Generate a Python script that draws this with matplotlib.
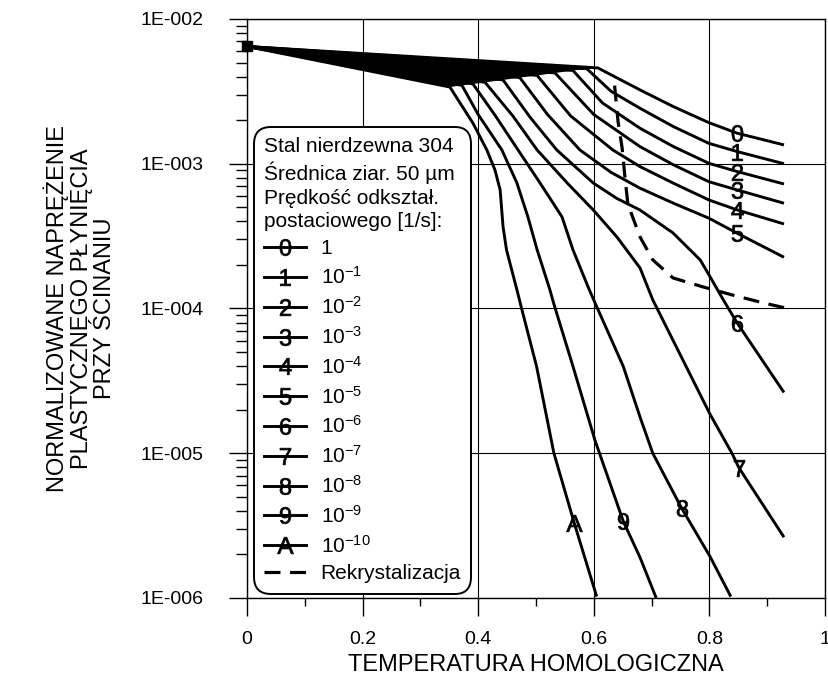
import matplotlib
matplotlib.use('Agg')
import matplotlib.pyplot as plt
from matplotlib.lines import Line2D
from matplotlib.ticker import LogLocator, MultipleLocator, NullFormatter
import numpy as np

plt.rcParams['font.family'] = ['Liberation Sans', 'DejaVu Sans']
plt.rcParams['mathtext.fontset'] = 'custom'
plt.rcParams['mathtext.rm'] = 'Liberation Sans'
plt.rcParams['mathtext.it'] = 'Liberation Sans:italic'
plt.rcParams['mathtext.bf'] = 'Liberation Sans:bold'

# homologous temperature and log10(normalised shear flow stress)
x_0 = [0, 0.607, 0.68, 0.738, 0.799, 0.848, 0.929]
lg_0 = [-2.19, -2.338, -2.49, -2.606, -2.716, -2.789, -2.87]
x_1 = [0, 0.588, 0.63, 0.68, 0.738, 0.799, 0.848, 0.929]
lg_1 = [-2.19, -2.344, -2.50, -2.617, -2.744, -2.859, -2.916, -3.0]
x_2 = [0, 0.564, 0.615, 0.68, 0.738, 0.799, 0.848, 0.929]
lg_2 = [-2.19, -2.356, -2.58, -2.755, -2.882, -2.997, -3.054, -3.14]
x_3 = [0, 0.533, 0.60, 0.68, 0.738, 0.799, 0.848, 0.929]
lg_3 = [-2.19, -2.373, -2.66, -2.882, -3.008, -3.124, -3.181, -3.273]
x_4 = [0, 0.502, 0.56, 0.633, 0.68, 0.738, 0.799, 0.848, 0.929]
lg_4 = [-2.19, -2.39, -2.67, -2.905, -3.02, -3.135, -3.25, -3.319, -3.416]
x_5 = [0, 0.472, 0.52, 0.576, 0.63, 0.68, 0.738, 0.799, 0.848, 0.929]
lg_5 = [-2.19, -2.405, -2.66, -2.905, -3.06, -3.169, -3.273, -3.376, -3.48, -3.646]
x_6 = [0, 0.443, 0.49, 0.536, 0.599, 0.64, 0.68, 0.737, 0.784, 0.801, 0.824, 0.848, 0.929]
lg_6 = [-2.19, -2.421, -2.68, -2.905, -3.133, -3.24, -3.32, -3.478, -3.664, -3.78, -3.94, -4.10, -4.58]
x_7 = [0, 0.412, 0.46, 0.502, 0.554, 0.599, 0.64, 0.68, 0.702, 0.801, 0.839, 0.851, 0.929]
lg_7 = [-2.19, -2.438, -2.67, -2.905, -3.133, -3.319, -3.506, -3.72, -3.94, -4.73, -5.0, -5.10, -5.58]
x_8 = [0, 0.391, 0.43, 0.469, 0.507, 0.545, 0.564, 0.59, 0.602, 0.651, 0.68, 0.702, 0.752, 0.801, 0.837]
lg_8 = [-2.19, -2.449, -2.67, -2.905, -3.133, -3.367, -3.595, -3.85, -3.96, -4.40, -4.75, -5.0, -5.38, -5.713, -5.99]
x_9 = [0, 0.372, 0.40, 0.441, 0.467, 0.486, 0.502, 0.524, 0.531, 0.564, 0.602, 0.651, 0.68, 0.708]
lg_9 = [-2.19, -2.459, -2.66, -2.905, -3.133, -3.367, -3.595, -3.87, -3.97, -4.40, -4.91, -5.47, -5.72, -6.0]
x_A = [0, 0.351, 0.391, 0.415, 0.429, 0.438, 0.443, 0.449, 0.458, 0.467, 0.475, 0.501, 0.531, 0.566, 0.605]
lg_A = [-2.19, -2.47, -2.72, -2.905, -3.043, -3.181, -3.434, -3.595, -3.733, -3.871, -3.998, -4.40, -5.0, -5.48, -5.99]

# recrystallisation boundary
x_rek = [0.636, 0.642, 0.649, 0.654, 0.659, 0.68, 0.702, 0.737, 0.789, 0.839, 0.893, 0.931]
lg_rek = [-2.46, -2.711, -2.891, -3.098, -3.28, -3.506, -3.664, -3.789, -3.851, -3.906, -3.961, -3.996]

# curve number labels sitting on the curves
curve_ids = ['0', '1', '2', '3', '4', '5', '6', '7', '8', '9', 'A']
label_x = [0.848, 0.848, 0.848, 0.848, 0.848, 0.848, 0.848, 0.851, 0.752, 0.651, 0.566]
label_lg = [-2.789, -2.916, -3.054, -3.181, -3.319, -3.48, -4.10, -5.10, -5.38, -5.47, -5.483]

rates = ['1', '10$^{\\mathregular{-1}}$', '10$^{\\mathregular{-2}}$', '10$^{\\mathregular{-3}}$',
         '10$^{\\mathregular{-4}}$', '10$^{\\mathregular{-5}}$', '10$^{\\mathregular{-6}}$',
         '10$^{\\mathregular{-7}}$', '10$^{\\mathregular{-8}}$', '10$^{\\mathregular{-9}}$',
         '10$^{\\mathregular{-10}}$']

y_ticks = [1e-6, 1e-5, 1e-4, 1e-3, 1e-2]
y_ticklabels = ['1E-006', '1E-005', '1E-004', '1E-003', '1E-002']
x_ticks = [0, 0.2, 0.4, 0.6, 0.8, 1]
x_ticklabels = ['0', '0.2', '0.4', '0.6', '0.8', '1']

curves_x = [x_0, x_1, x_2, x_3, x_4, x_5, x_6, x_7, x_8, x_9, x_A]
curves_lg = [lg_0, lg_1, lg_2, lg_3, lg_4, lg_5, lg_6, lg_7, lg_8, lg_9, lg_A]

fig = plt.figure(figsize=(8.29, 6.78), dpi=100)
ax = fig.add_axes([0.2979, 0.118, 0.6973, 0.854])

lw = 2.1
for xs, lgs in zip(curves_x, curves_lg):
    ax.plot(xs, 10 ** np.array(lgs), color='k', lw=lw, solid_joinstyle='round',
            solid_capstyle='butt', zorder=3)

# the dense bundle between the start point and the knees prints as a solid wedge
fan_x = [x_0[0]] + [xs[1] for xs in curves_x[::-1]]
fan_lg = [lg_0[0]] + [lgs[1] for lgs in curves_lg[::-1]]
ax.fill(fan_x, 10 ** np.array(fan_lg), color='k', lw=0, zorder=3)

# markers with the curve number
markers = ['$%s$' % c if c != 'A' else r'$\mathrm{A}$' for c in curve_ids]
for lx, ly, m in zip(label_x, label_lg, markers):
    ax.plot([lx], [10 ** ly], ls='none', marker=m, ms=12, color='k', mew=0.5, zorder=4)

# common starting point
ax.plot([x_0[0]], [10 ** lg_0[0]], ls='none', marker='s', ms=7, color='k', clip_on=False, zorder=5)

ax.plot(x_rek, 10 ** np.array(lg_rek), color='k', lw=2.3, dashes=(5, 3), zorder=3)

ax.set_yscale('log')
ax.set_xlim(0, 1)
ax.set_ylim(1e-6, 1e-2)
ax.set_xticks(x_ticks)
ax.set_xticklabels(x_ticklabels)
ax.xaxis.set_minor_locator(MultipleLocator(0.1))
ax.set_yticks(y_ticks)
ax.set_yticklabels(y_ticklabels)
ax.yaxis.set_minor_locator(LogLocator(base=10, subs=np.arange(2, 10)))
ax.yaxis.set_minor_formatter(NullFormatter())

ax.tick_params(axis='both', which='major', labelsize=14, width=1, direction='out', color='k')
ax.tick_params(axis='x', which='major', length=13, pad=11)
ax.tick_params(axis='x', which='minor', length=6, width=1, direction='out')
ax.tick_params(axis='y', which='major', length=13, pad=18)
ax.tick_params(axis='y', which='minor', length=8, width=1, direction='out')

ax.grid(True, which='major', color='k', lw=0.8)
ax.set_axisbelow(True)
for s in ax.spines.values():
    s.set_linewidth(1)

ax.set_xlabel('TEMPERATURA HOMOLOGICZNA', fontsize=17)
ax.xaxis.set_label_coords(0.5, -0.1157)
ax.xaxis.label.set_va('center')
ax.set_ylabel('NORMALIZOWANE NAPRĘŻENIE\nPLASTYCZNEGO PŁYNIĘCIA\nPRZY ŚCINANIU', fontsize=17,
              multialignment='center', linespacing=1.1)
ax.yaxis.set_label_coords(-0.289, 0.5)
ax.yaxis.label.set_va('center')

handles = [Line2D([], [], color='k', lw=lw, marker=m, ms=12, mew=0.5) for m in markers]
handles.append(Line2D([], [], color='k', lw=2.3, dashes=(5, 3)))
labels = rates + ['Rekrystalizacja']
leg = ax.legend(handles, labels, title='Stal nierdzewna 304\nŚrednica ziar. 50 µm\nPrędkość odkształ.\npostaciowego [1/s]:',
                loc='upper left', bbox_to_anchor=(0.012, 0.8135), borderaxespad=0,
                fontsize=15, title_fontsize=15, alignment='left', numpoints=1,
                handlelength=2.0, handletextpad=0.7, labelspacing=0.38, borderpad=0.5,
                framealpha=1, edgecolor='k', fancybox=True)
leg.get_title().set_linespacing(1.3)
leg.get_frame().set_linewidth(1.4)
leg.get_frame().set_boxstyle('round', pad=0, rounding_size=0.8)
leg.set_zorder(10)

fig.savefig('out.png', dpi=100)
